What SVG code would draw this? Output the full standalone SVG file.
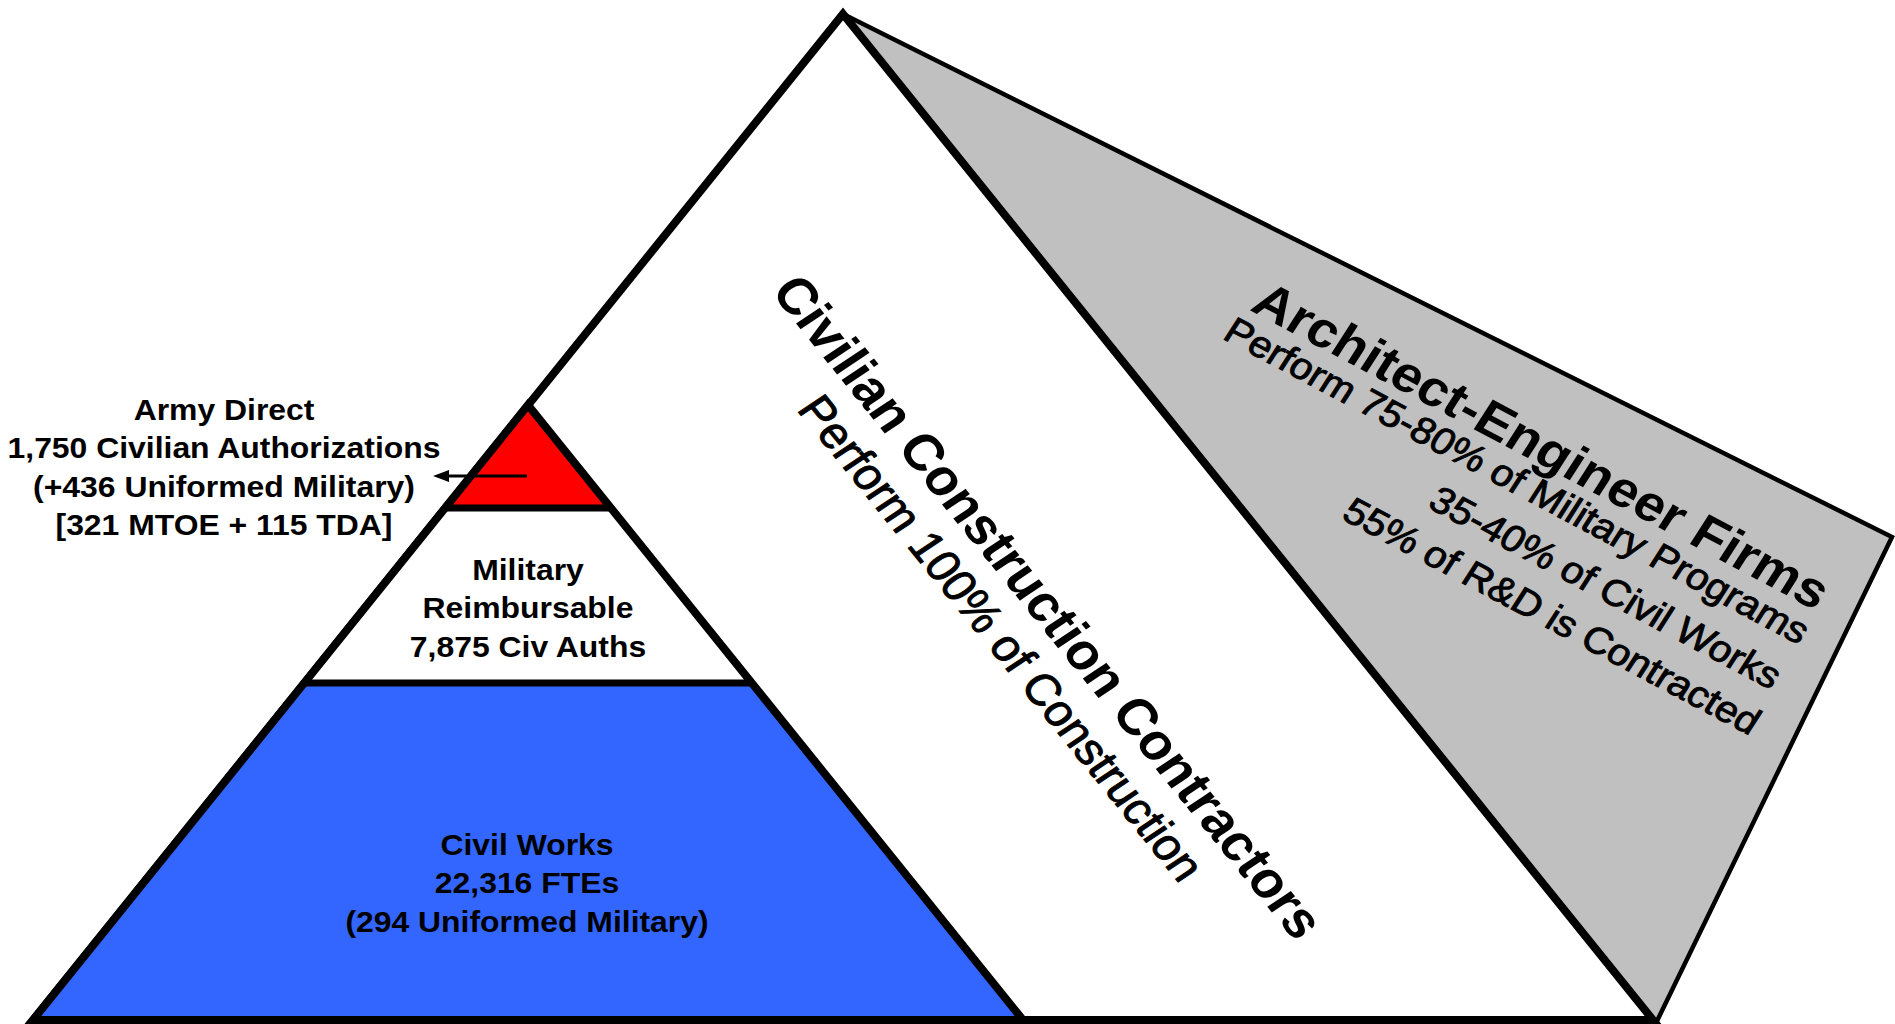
<svg xmlns="http://www.w3.org/2000/svg" width="1895" height="1024" viewBox="0 0 1895 1024">
<style>
text{font-family:"Liberation Sans",Arial,sans-serif;fill:#000}
.b{font-weight:bold}
.r{stroke:#000;stroke-width:0.9px}
.h{font-size:29px;font-weight:bold;text-anchor:middle}
.ln{fill:none;stroke:#000;stroke-linejoin:miter}
</style>
<defs>
<marker id="ah" viewBox="0 0 16 12" refX="9" refY="6" markerWidth="16" markerHeight="12" markerUnits="userSpaceOnUse" orient="auto">
<path d="M0,0 L16,6 L0,12 z" fill="#000"/>
</marker>
</defs>
<rect width="1895" height="1024" fill="#fff"/>
<g id="ae-firms">
<polygon points="843,14 1892,537 1657,1021 1653,1020" fill="#C0C0C0" stroke="#000" stroke-width="4.5" stroke-linejoin="miter"/>
<text class="b" font-size="50" text-anchor="end" transform="translate(1816,611) scale(1.1,1) rotate(30.3)">Architect-Engineer Firms</text>
<text class="r" font-size="37" text-anchor="end" transform="translate(1799,645) scale(1.1,1) rotate(30.3)">Perform 75-80% of Military Programs</text>
<text class="r" font-size="37" text-anchor="end" transform="translate(1771,690) scale(1.1,1) rotate(30.3)">35-40% of Civil Works</text>
<text class="r" font-size="37" text-anchor="end" transform="translate(1750,736) scale(1.1,1) rotate(30.3)">55% of R&amp;D is Contracted</text>
</g>
<g id="contractors">
<polygon class="ln" points="843,14 1653,1020 33,1020" stroke-width="8" style="fill:#fff"/>
<text class="b" font-size="50.5" text-anchor="middle" transform="translate(1033,617) scale(1.1,1) rotate(53.7)">Civilian Construction Contractors</text>
<text class="r" font-size="44" text-anchor="middle" transform="translate(988,647) scale(1.1,1) rotate(53.7)">Perform 100% of Construction</text>
</g>
<g id="civil-works">
<polygon points="304,683 752,683 1023,1020 33,1020" fill="#3366FF"/>
<text class="h" transform="translate(527,855) scale(1.1,1)"><tspan x="0">Civil Works</tspan><tspan x="0" dy="38.5">22,316 FTEs</tspan><tspan x="0" dy="38.5">(294 Uniformed Military)</tspan></text>
</g>
<g id="military-reimbursable">
<polygon points="445,508 611,508 752,683 304,683" fill="#fff"/>
<text class="h" transform="translate(528,580) scale(1.1,1)"><tspan x="0">Military</tspan><tspan x="0" dy="38.5">Reimbursable</tspan><tspan x="0" dy="38.5">7,875 Civ Auths</tspan></text>
</g>
<g id="army-direct">
<polygon points="528,405 611,508 445,508" fill="#FF0000"/>
<text class="h" transform="translate(224,420) scale(1.1,1)"><tspan x="0">Army Direct</tspan><tspan x="0" dy="38.5">1,750 Civilian Authorizations</tspan><tspan x="0" dy="38.5">(+436 Uniformed Military)</tspan><tspan x="0" dy="38.5">[321 MTOE + 115 TDA]</tspan></text>
</g>
<g id="pyramid-outline">
<line class="ln" x1="445" y1="508" x2="611" y2="508" stroke-width="7"/>
<line class="ln" x1="304" y1="683" x2="752" y2="683" stroke-width="7"/>
<polygon class="ln" points="528,405 1023,1020 33,1020" stroke-width="8"/>
</g>
<g id="connectors">
<line x1="527" y1="476" x2="440" y2="476" stroke="#000" stroke-width="3" marker-end="url(#ah)"/>
</g>
</svg>
